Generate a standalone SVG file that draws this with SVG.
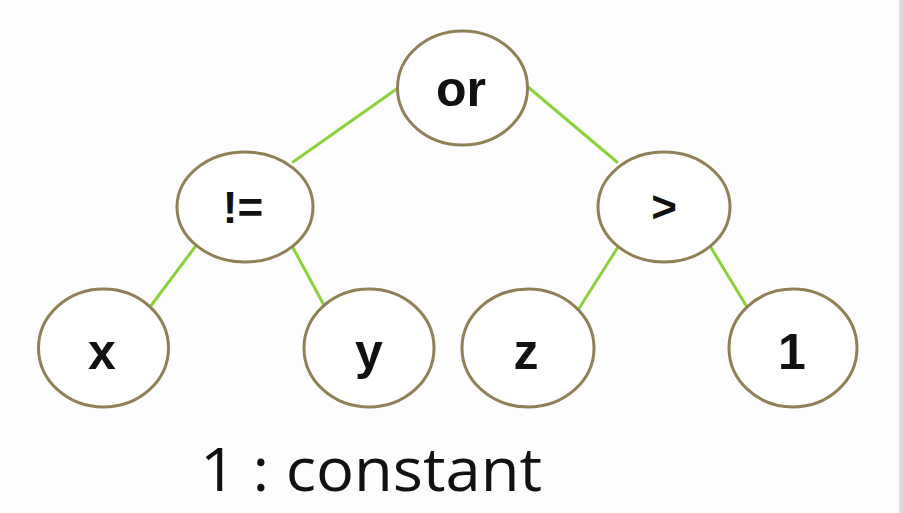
<svg xmlns="http://www.w3.org/2000/svg" width="903" height="513" viewBox="0 0 903 513">
<style>
.edge{stroke:#8cd23c;stroke-width:3;fill:none;stroke-linecap:round}
.node ellipse{fill:#ffffff;stroke:#8f8157;stroke-width:3}
.node text{font-family:"Liberation Sans",Arial,sans-serif;font-weight:bold;font-size:50px;fill:#111;text-anchor:middle}
.node text.op{font-size:44px}
.caption{font-family:"Open Sans","Noto Sans",sans-serif;font-size:60px;fill:#111}
</style>
<rect x="0" y="0" width="903" height="513" fill="#fdfdfd"/>
<rect x="899" y="0" width="4" height="513" fill="#d6dce5"/>
<g id="connectors">
<line class="edge" x1="398" y1="88" x2="293" y2="162"/>
<line class="edge" x1="528" y1="87" x2="617" y2="162"/>
<line class="edge" x1="195" y1="247" x2="150" y2="307"/>
<line class="edge" x1="292" y1="246" x2="325" y2="307"/>
<line class="edge" x1="618" y1="247" x2="578" y2="310"/>
<line class="edge" x1="710" y1="246" x2="747" y2="307"/>
</g>
<g id="node-or" class="node"><ellipse cx="462.5" cy="88" rx="65" ry="57"/><text x="461" y="106">or</text></g>
<g id="node-neq" class="node"><ellipse cx="245" cy="207" rx="68" ry="55"/><text class="op" x="243" y="223">!=</text></g>
<g id="node-gt" class="node"><ellipse cx="664" cy="207" rx="66" ry="55"/><text class="op" x="664" y="222">&gt;</text></g>
<g id="node-x" class="node"><ellipse cx="103.5" cy="348" rx="65" ry="59"/><text x="102" y="369">x</text></g>
<g id="node-y" class="node"><ellipse cx="369" cy="348" rx="65" ry="59"/><text x="369" y="369">y</text></g>
<g id="node-z" class="node"><ellipse cx="528" cy="348" rx="66" ry="59"/><text x="526" y="369">z</text></g>
<g id="node-1" class="node"><ellipse cx="793" cy="348" rx="64" ry="59"/><text x="792" y="369">1</text></g>
<text class="caption" x="200" y="491" textLength="342" lengthAdjust="spacingAndGlyphs">1 : constant</text>
</svg>
